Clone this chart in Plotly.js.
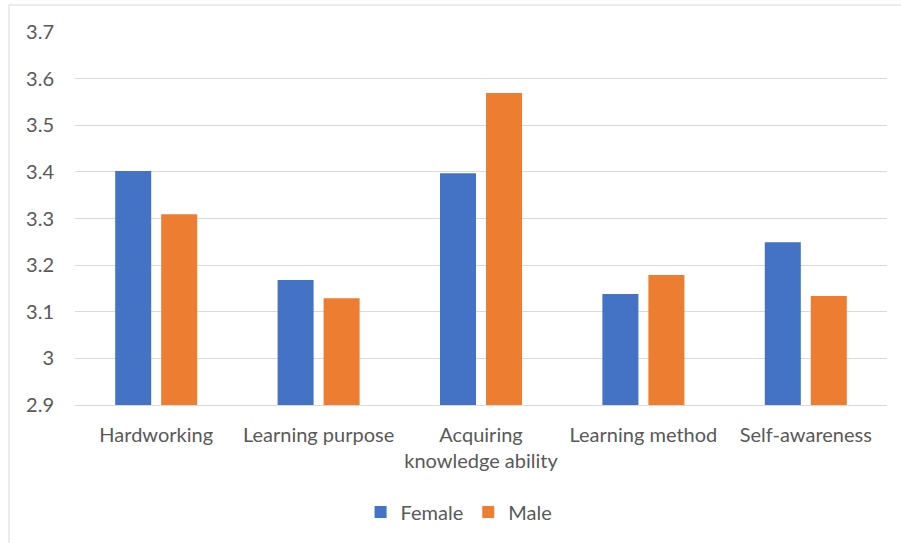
<!DOCTYPE html>
<html>
<head>
<meta charset="utf-8">
<script src="https://cdn.plot.ly/plotly-3.0.1.min.js"></script>
<style>body{margin:0;background:#fff;} #chart{width:901px;height:543px;}</style>
</head>
<body>
<div id="chart"></div>
<script>
const categories = ["Hardworking", "Learning purpose", "Acquiring<br>knowledge ability", "Learning method", "Self-awareness"];
const femaleValues = [3.402, 3.168, 3.397, 3.138, 3.249];
const maleValues = [3.309, 3.129, 3.569, 3.179, 3.134];
const yTicks = [2.9, 3, 3.1, 3.2, 3.3, 3.4, 3.5, 3.6, 3.7];
const yTickLabels = ["2.9", "3", "3.1", "3.2", "3.3", "3.4", "3.5", "3.6", "3.7"];

const font = {family: "Lato, 'Open Sans', sans-serif", size: 20, color: "#595959"};

const traces = [
  {type: "bar", name: "Female", x: categories, y: femaleValues, marker: {color: "#4472c4"}, hoverinfo: "y"},
  {type: "bar", name: "Male", x: categories, y: maleValues, marker: {color: "#ed7d31"}, hoverinfo: "y"}
];

const layout = {
  width: 901, height: 543,
  margin: {l: 75, r: 14, t: 32, b: 138},
  paper_bgcolor: "#fff", plot_bgcolor: "#fff",
  font: font,
  barmode: "group",
  bargap: 0.4335,
  bargroupgap: 0.217,
  showlegend: true,
  legend: {orientation: "h", x: 0.473, xanchor: "center", y: -0.287, yanchor: "middle", font: font, itemwidth: 30, tracegroupgap: 0},
  xaxis: {
    type: "category",
    showgrid: false, zeroline: false,
    showline: true, linecolor: "#d9d9d9", linewidth: 1,
    ticks: "", tickfont: font, ticklabelstandoff: 12
  },
  yaxis: {
    range: [2.9, 3.7], tickvals: yTicks, ticktext: yTickLabels,
    showgrid: true, gridcolor: "#d9d9d9", gridwidth: 1,
    zeroline: false, showline: false, ticks: "", tickfont: font,
    ticklabelstandoff: 20
  },
  shapes: [
    {type: "line", xref: "paper", yref: "paper", x0: -0.0813, x1: -0.0813, y0: 1.0724, y1: -0.38, line: {color: "#d9d9d9", width: 1}},
    {type: "line", xref: "paper", yref: "paper", x0: -0.0813, x1: 1.02, y0: 1.0724, y1: 1.0724, line: {color: "#d9d9d9", width: 1}}
  ]
};

Plotly.newPlot("chart", traces, layout, {displayModeBar: false, staticPlot: true});
</script>
</body>
</html>
